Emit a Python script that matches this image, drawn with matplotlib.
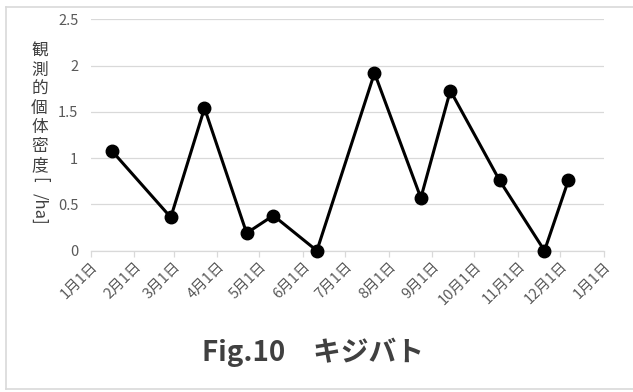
import matplotlib
matplotlib.use("Agg")
import matplotlib.pyplot as plt
from matplotlib.lines import Line2D
import datetime as dt

plt.rcParams['font.family'] = ['Noto Sans CJK JP', 'DejaVu Sans']

# Survey dates and observed density
survey_dates = ["2015-01-16", "2015-02-27", "2015-03-23", "2015-04-22",
                "2015-05-11", "2015-06-11", "2015-07-22", "2015-08-24",
                "2015-09-14", "2015-10-19", "2015-11-20", "2015-12-07"]
density = [1.08, 0.36, 1.54, 0.19, 0.38, 0.0, 1.92, 0.57, 1.73, 0.76, 0.0, 0.76]

tick_dates = ["2015-01-01", "2015-02-01", "2015-03-01", "2015-04-01",
              "2015-05-01", "2015-06-01", "2015-07-01", "2015-08-01",
              "2015-09-01", "2015-10-01", "2015-11-01", "2015-12-01",
              "2016-01-01"]
tick_labels = ["1月1日", "2月1日", "3月1日", "4月1日", "5月1日", "6月1日",
               "7月1日", "8月1日", "9月1日", "10月1日", "11月1日", "12月1日",
               "1月1日"]
y_ticks = [0, 0.5, 1, 1.5, 2, 2.5]
y_tick_labels = ["0", "0.5", "1", "1.5", "2", "2.5"]
title_text = "Fig.10\u3000キジバト"
ylabel_chars = ["観", "測", "的", "個", "体", "密", "度"]

W, H = 633, 392
fig = plt.figure(figsize=(W / 100, H / 100), dpi=100)

def fx(px):
    return px / W

def fy(py):
    return 1 - py / H

ax = fig.add_axes([fx(90.7), fy(250.7), fx(603.5) - fx(90.7), fy(19.3) - fy(250.7)])

xs = [dt.datetime.strptime(d, "%Y-%m-%d") for d in survey_dates]
ticks = [dt.datetime.strptime(d, "%Y-%m-%d") for d in tick_dates]

grid_c = "#d9d9d9"
text_c = "#595959"

ax.plot(xs, density, color="black", linewidth=2.2, marker="o",
        markersize=9, markerfacecolor="black", markeredgecolor="black",
        zorder=3, clip_on=False)

ax.set_xlim(ticks[0], ticks[-1])
ax.set_ylim(0, 2.5)
ax.set_xticks(ticks)
ax.set_xticklabels(tick_labels, rotation=45, ha="right",
                   rotation_mode="anchor", color=text_c, fontsize=10.5)
ax.set_yticks(y_ticks)
ax.set_yticklabels(y_tick_labels, color=text_c, fontsize=10.5)

ax.grid(axis="y", color=grid_c, linewidth=0.9)
ax.set_axisbelow(True)
for side in ["left", "right", "top"]:
    ax.spines[side].set_visible(False)
ax.spines["bottom"].set_color(grid_c)
ax.spines["bottom"].set_linewidth(0.9)
ax.tick_params(axis="x", length=4, width=0.9, color=grid_c, pad=2)
ax.tick_params(axis="y", length=0, pad=9)

# Vertical axis label, characters stacked top to bottom
label_c = "#404040"
y0, step = 51.0, 19.1
for i, ch in enumerate(ylabel_chars):
    fig.text(fx(39.5), fy(y0 + i * step), ch, ha="center", va="center",
             fontsize=12, color=label_c)
fig.text(fx(39.5), fy(180), "[", ha="center", va="center", rotation=270,
         fontsize=12, color=label_c)
fig.text(fx(39.5), fy(209), "/ha]", ha="center", va="center", rotation=270,
         fontsize=12, color=label_c)

fig.text(fx(313), fy(352), title_text, ha="center", va="center",
         fontsize=20, fontweight="bold", color="#404040")

# Chart frame
frame_c = "#d9d9d9"
fig.add_artist(Line2D([fx(6), fx(6)], [fy(6.5), fy(388.5)], color=frame_c, linewidth=1.2))
fig.add_artist(Line2D([fx(6), 1], [fy(6.5), fy(6.5)], color=frame_c, linewidth=1.2))
fig.add_artist(Line2D([fx(6), 1], [fy(388.5), fy(388.5)], color=frame_c, linewidth=1.2))

fig.savefig("out.png", dpi=100)
